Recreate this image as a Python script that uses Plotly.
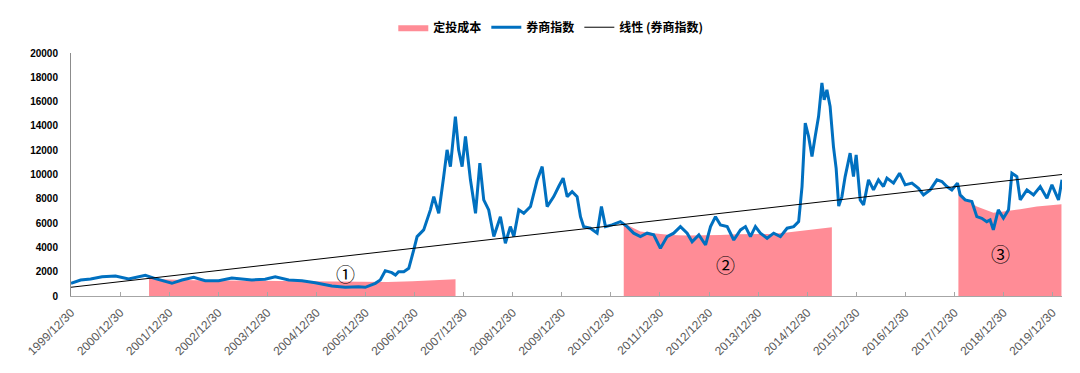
import plotly.graph_objects as go

# ---------------- data ----------------
index_dates = [
    "1999-12-30", "2000-03-11", "2000-05-24", "2000-08-17", "2000-11-25", "2001-03-03",
    "2001-07-05", "2001-09-18", "2002-01-19", "2002-04-04", "2002-06-30", "2002-09-24",
    "2003-01-02", "2003-04-10", "2003-09-06", "2003-12-14", "2004-02-27", "2004-06-06",
    "2004-09-13", "2004-12-21", "2005-04-23", "2005-08-01", "2005-11-08", "2005-12-28",
    "2006-03-13", "2006-04-19", "2006-05-26", "2006-07-14", "2006-08-10", "2006-09-02",
    "2006-10-11", "2006-11-17", "2006-12-24", "2007-01-18", "2007-03-08", "2007-04-27",
    "2007-05-22", "2007-06-28", "2007-08-04", "2007-08-29", "2007-09-23", "2007-10-30",
    "2007-11-23", "2007-12-19", "2008-01-13", "2008-02-19", "2008-03-28", "2008-04-29",
    "2008-05-28", "2008-07-04", "2008-08-11", "2008-09-29", "2008-11-05", "2008-12-12",
    "2009-01-07", "2009-02-13", "2009-03-22", "2009-05-11", "2009-06-30", "2009-08-06",
    "2009-09-12", "2009-10-31", "2009-12-07", "2010-01-09", "2010-02-08", "2010-03-17",
    "2010-04-23", "2010-05-18", "2010-06-11", "2010-07-31", "2010-09-19", "2010-10-21",
    "2010-11-20", "2011-01-08", "2011-03-11", "2011-04-30", "2011-06-18", "2011-08-07",
    "2011-09-26", "2011-11-14", "2012-01-03", "2012-02-22", "2012-04-11", "2012-05-31",
    "2012-07-20", "2012-08-26", "2012-10-15", "2012-12-04", "2013-01-10", "2013-02-16",
    "2013-03-25", "2013-05-14", "2013-07-02", "2013-08-21", "2013-09-27", "2013-11-03",
    "2013-12-10", "2014-01-16", "2014-03-07", "2014-04-25", "2014-06-14", "2014-08-03",
    "2014-09-21", "2014-10-28", "2014-11-22", "2014-12-16", "2015-01-10", "2015-02-04",
    "2015-02-28", "2015-03-25", "2015-04-19", "2015-05-06", "2015-05-26", "2015-06-19",
    "2015-07-14", "2015-08-03", "2015-08-22", "2015-09-15", "2015-10-09", "2015-11-15",
    "2015-12-10", "2015-12-30", "2016-01-29", "2016-02-23", "2016-03-31", "2016-05-07",
    "2016-06-13", "2016-07-20", "2016-08-15", "2016-10-03", "2016-11-17", "2016-12-29",
    "2017-02-17", "2017-04-07", "2017-05-14", "2017-07-03", "2017-08-22", "2017-09-28",
    "2017-11-04", "2017-12-11", "2018-01-22", "2018-02-11", "2018-03-20", "2018-05-09",
    "2018-06-15", "2018-07-22", "2018-08-28", "2018-09-22", "2018-10-16", "2018-11-22",
    "2018-12-30", "2019-02-06", "2019-03-03", "2019-04-09", "2019-05-04", "2019-06-23",
    "2019-08-11", "2019-09-30", "2019-11-19", "2019-12-26", "2020-02-13", "2020-03-10",
]
index_values = [
    1050, 1320, 1400, 1590, 1650, 1400,
    1705, 1425, 1045, 1320, 1540, 1260,
    1260, 1480, 1320, 1375, 1590, 1320,
    1260, 1095, 824, 717, 766, 717,
    1045, 1320, 2085, 1920, 1730, 2000,
    2000, 2280, 3790, 4890, 5440, 7090,
    8180, 6810, 9830, 12030, 10650, 14770,
    12030, 10650, 13130, 9560, 6810, 10930,
    7910, 7090, 4890, 6530, 4340, 5710,
    4890, 7090, 6810, 7360, 9560, 10650,
    7360, 8180, 9010, 9700, 8180, 8590,
    8180, 6530, 5710, 5580, 5170, 7360,
    5710, 5850, 6120, 5710, 5170, 4890,
    5170, 5030, 3930, 4890, 5170, 5710,
    5170, 4470, 5030, 4200, 5710, 6530,
    5850, 5710, 4610, 5440, 5710, 4890,
    5710, 5170, 4750, 5170, 4890, 5580,
    5710, 6120, 9010, 14230, 13130, 11480,
    13130, 14770, 17530, 16150, 16970, 15600,
    12300, 10500, 7400, 8180, 9830, 11760,
    9830, 11620, 7910, 7500, 9560, 8730,
    9560, 9010, 9700, 9290, 10110, 9150,
    9290, 8870, 8320, 8730, 9560, 9420,
    9010, 8730, 9290, 8320, 7910, 7770,
    6530, 6400, 6120, 6260, 5440, 7090,
    6400, 7090, 10110, 9830, 7910, 8730,
    8320, 9010, 8050, 9150, 7910, 9560,
]

# DCA (定投) average cost, three investment periods
cost1_dates = ["2001-08-02", "2001-12-20", "2002-06-30", "2003-03-15", "2004-01-15",
               "2004-09-13", "2005-05-15", "2005-12-15", "2006-06-15", "2006-12-15",
               "2007-05-15", "2007-10-31"]
cost1_values = [1480, 1360, 1300, 1270, 1280, 1260, 1220, 1180, 1150, 1210, 1290, 1380]

cost2_dates = ["2011-04-05", "2011-06-18", "2011-08-07", "2011-11-14", "2012-03-17",
               "2012-07-20", "2012-11-21", "2013-03-25", "2013-07-27", "2013-11-27",
               "2014-03-31", "2014-08-03", "2014-12-03", "2015-04-07", "2015-07-02"]
cost2_values = [5990, 5550, 5300, 5170, 5030, 4970, 4970, 5030, 5080, 5080,
                5110, 5220, 5380, 5550, 5660]

cost3_dates = ["2018-01-29", "2018-03-26", "2018-06-15", "2018-08-10", "2018-10-16",
               "2018-12-30", "2019-02-19", "2019-05-04", "2019-09-05", "2020-02-25",
               "2020-03-06"]
cost3_values = [8590, 7910, 7360, 7140, 6860, 6950, 7050, 7140, 7360, 7520, 7560]

# linear trend (线性) of the index, end points
trend_dates = ["1999-12-30", "2020-03-10"]
trend_values = [720, 10000]

# axis ticks
x_tick_dates = ["%d-12-30" % y for y in range(1999, 2020)]
x_tick_labels = ["%d/12/30" % y for y in range(1999, 2020)]
y_tick_values = list(range(0, 20001, 2000))

# circled labels
mark_texts = ["①", "②", "③"]
mark_dates = ["2005-08-01", "2013-04-30", "2018-12-05"]
mark_values = [1813, 2555, 3460]

# ---------------- figure ----------------
PINK = "#FF8C96"
BLUE = "#0070C0"

fig = go.Figure()

for i, (d, v) in enumerate([(cost1_dates, cost1_values),
                             (cost2_dates, cost2_values),
                             (cost3_dates, cost3_values)]):
    fig.add_trace(go.Scatter(
        x=d, y=v, mode="lines", fill="tozeroy", fillcolor=PINK,
        line=dict(width=0, color=PINK), name="定投成本",
        legendgroup="cost", showlegend=(i == 0), hoverinfo="skip",
    ))

fig.add_trace(go.Scatter(
    x=index_dates, y=index_values, mode="lines", name="券商指数",
    line=dict(color=BLUE, width=3),
))

fig.add_trace(go.Scatter(
    x=trend_dates, y=trend_values, mode="lines", name="线性 (券商指数)",
    line=dict(color="#000000", width=1),
))

for t, d, v in zip(mark_texts, mark_dates, mark_values):
    fig.add_annotation(x=d, y=v, text=t, showarrow=False,
                       font=dict(family="Noto Sans CJK SC", size=19, color="#000000"))

fig.update_layout(
    width=1080, height=373,
    margin=dict(l=71, r=18, t=53, b=77, autoexpand=False),
    paper_bgcolor="white", plot_bgcolor="white",
    font=dict(family="Liberation Sans, Arial, sans-serif", color="#000000"),
    legend=dict(
        orientation="h", xref="container", yref="container",
        x=0.51, xanchor="center", y=0.927, yanchor="middle",
        font=dict(family="Noto Sans CJK SC", size=12, color="#000000", weight="bold"),
        itemwidth=30, tracegroupgap=0, bgcolor="rgba(0,0,0,0)",
    ),
    showlegend=True,
)

fig.update_xaxes(
    type="date", range=["1999-12-30", "2020-03-10"], automargin=False,
    tickvals=x_tick_dates, ticktext=x_tick_labels, tickangle=-45,
    tickfont=dict(family="Liberation Sans, Arial, sans-serif", size=12, color="#595959"),
    showline=True, linecolor="#A6A6A6", linewidth=1,
    ticks="inside", ticklen=4, tickcolor="#A6A6A6", ticklabelstandoff=4,
    showgrid=False, zeroline=False,
)

fig.update_yaxes(
    range=[0, 20000], tickvals=y_tick_values, tickformat="d", automargin=False,
    tickfont=dict(family="Liberation Sans, Arial, sans-serif", size=10, color="#000000",
                  weight="bold"),
    showline=True, linecolor="#8C8C8C", linewidth=1,
    ticks="", ticklabelstandoff=10,
    showgrid=False, zeroline=False,
)

fig.write_html("out.html", config={"displayModeBar": False},
               post_script="document.body.style.margin='0';")
